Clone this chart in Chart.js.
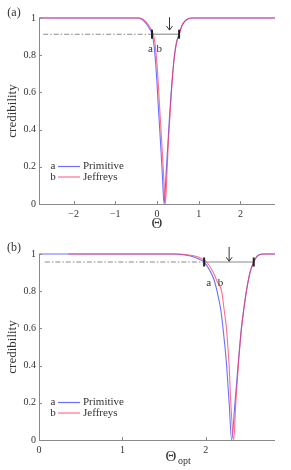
<!DOCTYPE html>
<html>
<head>
<meta charset="utf-8">
<script src="https://cdn.jsdelivr.net/npm/chart.js@4.4.1/dist/chart.umd.min.js"></script>
<style>
html, body { margin: 0; padding: 0; background: #fff; }
#wrap { position: relative; width: 291px; height: 470px; }
.panel { position: absolute; left: 0; width: 291px; }
</style>
</head>
<body>
<div id="wrap">
  <div class="panel" style="top:0;height:232px"><canvas id="chartA"></canvas></div>
  <div class="panel" style="top:235px;height:235px"><canvas id="chartB"></canvas></div>
</div>
<script>
// panel (a): credibility vs Theta
const thetaPrimA = [-2.83, -0.45, -0.38, -0.3, -0.2, -0.12, -0.07, -0.03, 0.0, 0.03, 0.06, 0.1, 0.13, 0.17, 0.22, 0.26, 0.3, 0.34, 0.38, 0.42, 0.47, 0.53, 0.6, 0.68, 0.76, 0.85, 2.83];
const credPrimA  = [1, 1, 0.995, 0.98, 0.95, 0.913, 0.85, 0.75, 0.65, 0.53, 0.42, 0.27, 0.15, 0, 0.17, 0.32, 0.47, 0.6, 0.71, 0.8, 0.87, 0.913, 0.96, 0.985, 0.997, 1, 1];
const thetaJeffA = [-2.83, -0.42, -0.35, -0.27, -0.17, -0.09, -0.04, 0.0, 0.03, 0.06, 0.09, 0.13, 0.16, 0.2, 0.24, 0.27, 0.31, 0.345, 0.38, 0.42, 0.47, 0.53, 0.6, 0.68, 0.76, 0.85, 2.83];
const credJeffA  = [1, 1, 0.995, 0.98, 0.95, 0.913, 0.85, 0.75, 0.65, 0.53, 0.42, 0.27, 0.15, 0, 0.17, 0.32, 0.47, 0.6, 0.71, 0.8, 0.87, 0.913, 0.96, 0.985, 0.997, 1, 1];
const levelA = 0.913;
const intervalA = [-0.12, 0.53];
const dashStartA = -2.73;

// panel (b): credibility vs Theta_opt
const thetaPrimB = [0, 1.6, 1.75, 1.85, 1.93, 1.98, 2.05, 2.1, 2.135, 2.18, 2.207, 2.23, 2.25, 2.28, 2.31, 2.35, 2.387, 2.427, 2.455, 2.487, 2.53, 2.575, 2.62, 2.68, 2.83];
const credPrimB  = [1, 1, 0.995, 0.985, 0.97, 0.957, 0.91, 0.86, 0.8, 0.7, 0.6, 0.5, 0.4, 0.2, 0, 0.2, 0.4, 0.6, 0.7, 0.8, 0.9, 0.957, 0.99, 1, 1];
const thetaJeffB = [0.35, 1.65, 1.8, 1.9, 1.97, 2.01, 2.09, 2.14, 2.19, 2.22, 2.248, 2.265, 2.28, 2.3, 2.335, 2.36, 2.39, 2.428, 2.455, 2.487, 2.53, 2.575, 2.62, 2.68, 2.83];
const credJeffB  = [1, 1, 0.995, 0.985, 0.97, 0.957, 0.9, 0.85, 0.8, 0.7, 0.6, 0.5, 0.4, 0.2, 0, 0.2, 0.4, 0.6, 0.7, 0.8, 0.9, 0.957, 0.99, 1, 1];
const levelB = 0.957;
const intervalB = [1.98, 2.575];
const dashStartB = 0.07;

const xTicksA = [-2, -1, 0, 1, 2];
const xTicksB = [0, 1, 2];
const yTicks = [0, 0.2, 0.4, 0.6, 0.8, 1];
const seriesNames = ['Primitive', 'Jeffreys'];

const BLUE = 'rgba(50,50,255,0.7)';
const RED = 'rgba(255,50,90,0.7)';
const SERIF = '"Liberation Serif", "DejaVu Serif", serif';

function pts(xs, ys) {
    return xs.map((v, i) => ({ x: v, y: ys[i] }));
}

// axes, inward ticks, arrow, a/b labels, legend, titles
const decor = {
    id: 'decor',
    afterDraw(chart, args, o) {
        const { ctx, chartArea: a, scales: { x, y } } = chart;
        ctx.save();
        ctx.strokeStyle = '#8a8a8a';
        ctx.lineWidth = 1;
        ctx.beginPath();
        ctx.moveTo(a.left + 0.5, a.top);
        ctx.lineTo(a.left + 0.5, a.bottom + 0.5);
        ctx.lineTo(a.right, a.bottom + 0.5);
        x.ticks.forEach(t => {
            const px = Math.round(x.getPixelForValue(t.value)) + 0.5;
            ctx.moveTo(px, a.bottom);
            ctx.lineTo(px, a.bottom - 3);
        });
        y.ticks.forEach(t => {
            const py = Math.round(y.getPixelForValue(t.value)) + 0.5;
            ctx.moveTo(a.left, py);
            ctx.lineTo(a.left + 3, py);
        });
        ctx.stroke();

        // arrow above the interval
        const ax = x.getPixelForValue(o.arrow.x);
        const ay0 = y.getPixelForValue(o.arrow.y0);
        const ay1 = y.getPixelForValue(o.arrow.y1);
        ctx.strokeStyle = '#333';
        ctx.beginPath();
        ctx.moveTo(ax, ay0);
        ctx.lineTo(ax, ay1);
        ctx.moveTo(ax - 3, ay1 - 4);
        ctx.lineTo(ax, ay1);
        ctx.lineTo(ax + 3, ay1 - 4);
        ctx.stroke();

        ctx.fillStyle = '#333';
        ctx.textAlign = 'center';
        ctx.textBaseline = 'middle';
        ctx.font = '11px ' + SERIF;
        o.marks.forEach(m => ctx.fillText(m.t, x.getPixelForValue(m.x), y.getPixelForValue(m.y)));

        // legend inside plot
        const colors = [BLUE, RED];
        ['a', 'b'].forEach((k, i) => {
            const ly = a.bottom - 37.5 + i * 10.5;
            ctx.textAlign = 'center';
            ctx.fillStyle = '#333';
            ctx.fillText(k, a.left + 14, ly);
            ctx.strokeStyle = colors[i];
            ctx.lineWidth = 1.2;
            ctx.beginPath();
            ctx.moveTo(a.left + 19, ly);
            ctx.lineTo(a.left + 41, ly);
            ctx.stroke();
            ctx.textAlign = 'left';
            ctx.fillText(seriesNames[i], a.left + 44, ly);
        });

        // panel letter
        ctx.textAlign = 'center';
        ctx.font = '12px ' + SERIF;
        ctx.fillText(o.panel, 14, 13);

        // y title
        ctx.save();
        ctx.font = '13px ' + SERIF;
        ctx.translate(13, (a.top + a.bottom) / 2);
        ctx.rotate(-Math.PI / 2);
        ctx.fillText('credibility', 0, 0);
        ctx.restore();

        // x title
        ctx.font = '15px ' + SERIF;
        if (o.sub) {
            ctx.fillText('Θ', o.xTitleX, a.bottom + 17);
            ctx.font = '10px ' + SERIF;
            ctx.textAlign = 'left';
            ctx.fillText(o.sub, o.xTitleX + 7, a.bottom + 21);
        } else {
            ctx.fillText('Θ', o.xTitleX, a.bottom + 20);
        }
        ctx.restore();
    }
};

function makePanel(id, cfg) {
    // Chart.js paints the first dataset last (on top)
    const datasets = [
        {
            data: pts(cfg.interval, [cfg.level, cfg.level]), showLine: false,
            pointStyle: 'line', rotation: 90, pointRadius: 4.5, pointBorderWidth: 2,
            pointBorderColor: '#222', borderColor: '#222'
        },
        { data: pts(cfg.interval, [cfg.level, cfg.level]), borderColor: '#8a8a8a' },
        { data: pts([cfg.dashStart, cfg.interval[0]], [cfg.level, cfg.level]), borderColor: '#8a8a8a', borderDash: [5, 2, 1.5, 2] },
        { data: pts(cfg.xJeff, cfg.yJeff), borderColor: RED },
        { data: pts(cfg.xPrim, cfg.yPrim), borderColor: BLUE }
    ];
    datasets.forEach((d, i) => {
        if (i > 0) {
            d.showLine = true;
            d.pointRadius = 0;
            d.borderWidth = 1.1;
        }
        d.clip = false;
    });

    return new Chart(document.getElementById(id), {
        type: 'scatter',
        data: { datasets },
        options: {
            responsive: true,
            maintainAspectRatio: false,
            animation: false,
            layout: { padding: { top: cfg.top, right: 16, left: 0, bottom: 0 } },
            elements: { line: { tension: 0, cubicInterpolationMode: 'monotone' } },
            plugins: {
                legend: { display: false },
                tooltip: { enabled: false },
                decor: cfg.decor
            },
            scales: {
                x: {
                    type: 'linear', min: cfg.xMin, max: cfg.xMax,
                    grid: { display: false, drawTicks: false },
                    border: { display: false },
                    afterBuildTicks: s => { s.ticks = cfg.xTicks.map(v => ({ value: v })); },
                    afterFit: s => { s.height = cfg.xAxisH; },
                    ticks: {
                        padding: 4, color: '#333', maxRotation: 0, autoSkip: false,
                        font: { family: SERIF, size: 10 },
                        callback: v => v < 0 ? '\u2212' + Math.abs(v) : String(v)
                    }
                },
                y: {
                    type: 'linear', min: 0, max: 1,
                    grid: { display: false, drawTicks: false },
                    border: { display: false },
                    afterBuildTicks: s => { s.ticks = yTicks.map(v => ({ value: v })); },
                    afterFit: s => { s.width = 39; },
                    ticks: {
                        padding: 3, color: '#333', autoSkip: false,
                        font: { family: SERIF, size: 10 },
                        callback: v => String(Math.round(v * 10) / 10)
                    }
                }
            }
        },
        plugins: [decor]
    });
}

makePanel('chartA', {
    xPrim: thetaPrimA, yPrim: credPrimA, xJeff: thetaJeffA, yJeff: credJeffA,
    level: levelA, interval: intervalA, dashStart: dashStartA,
    xMin: -2.83, xMax: 2.83, xTicks: xTicksA, top: 18, xAxisH: 28,
    decor: {
        panel: '(a)', xTitleX: 157,
        arrow: { x: 0.3, y0: 1.004, y1: 0.935 },
        marks: [{ t: 'a', x: -0.16, y: 0.833 }, { t: 'b', x: 0.055, y: 0.833 }]
    }
});

makePanel('chartB', {
    xPrim: thetaPrimB, yPrim: credPrimB, xJeff: thetaJeffB, yJeff: credJeffB,
    level: levelB, interval: intervalB, dashStart: dashStartB,
    xMin: 0, xMax: 2.83, xTicks: xTicksB, top: 19, xAxisH: 30,
    decor: {
        panel: '(b)', xTitleX: 171,
        sub: 'opt',
        arrow: { x: 2.28, y0: 1.038, y1: 0.961 },
        marks: [{ t: 'a', x: 2.036, y: 0.846 }, { t: 'b', x: 2.176, y: 0.846 }]
    }
});
</script>
</body>
</html>
